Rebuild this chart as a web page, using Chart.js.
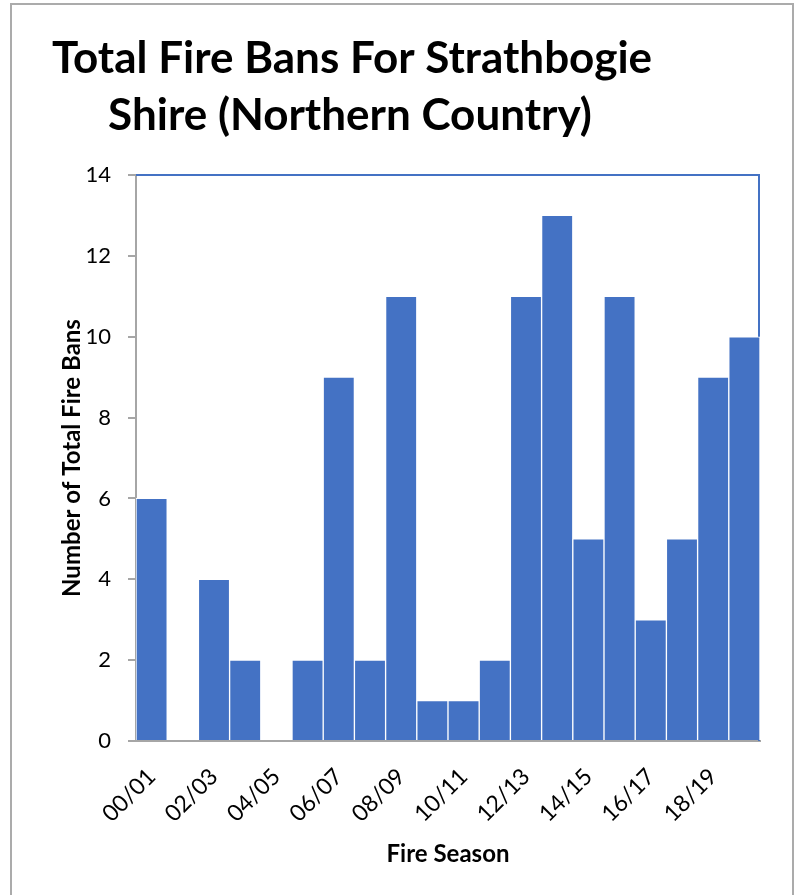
<!DOCTYPE html>
<html>
<head>
<meta charset="utf-8">
<script src="https://cdn.jsdelivr.net/npm/chart.js@4"></script>
<style>
  html, body { margin: 0; padding: 0; background: #fff; }
  #wrap { position: relative; width: 795px; height: 895px; overflow: hidden; }
  #c { position: absolute; left: 0; top: 0; }
  #frame { position: absolute; left: 10px; top: 3px; width: 780px; height: 910px;
           border: 2px solid #ababab; pointer-events: none; }
</style>
</head>
<body>
<div id="wrap">
  <canvas id="c" width="795" height="895"></canvas>
  <div id="frame"></div>
</div>
<script>
const titleLines = ["Total Fire Bans For Strathbogie", "Shire (Northern Country)"];
const seasons = ["00/01","01/02","02/03","03/04","04/05","05/06","06/07","07/08","08/09","09/10",
                 "10/11","11/12","12/13","13/14","14/15","15/16","16/17","17/18","18/19","19/20"];
const fireBans = [6,0,4,2,0,2,9,2,11,1,1,2,11,13,5,11,3,5,9,10];
const yTicks = [0,2,4,6,8,10,12,14];

const titlePlugin = {
  id: 'titlePlugin',
  afterDraw(chart) {
    const ctx = chart.ctx;
    ctx.save();
    ctx.fillStyle = '#000';
    ctx.font = 'bold 44px Lato';
    ctx.textAlign = 'center';
    ctx.textBaseline = 'alphabetic';
    ctx.fillText(titleLines[0], 352, 73);
    ctx.fillText(titleLines[1], 350, 130);
    ctx.restore();
  }
};

const framePlugin = {
  id: 'framePlugin',
  beforeDatasetsDraw(chart) {
    const a = chart.chartArea;
    const ctx = chart.ctx;
    ctx.save();
    ctx.strokeStyle = '#4472c4';
    ctx.lineWidth = 2;
    ctx.beginPath();
    ctx.moveTo(a.left, a.top);
    ctx.lineTo(a.right - 1, a.top);
    ctx.lineTo(a.right - 1, a.bottom);
    ctx.stroke();
    ctx.restore();
  }
};

new Chart(document.getElementById('c'), {
  type: 'bar',
  data: {
    labels: seasons,
    datasets: [{
      data: fireBans,
      backgroundColor: '#4472c4',
      borderColor: '#ffffff',
      borderWidth: 1,
      borderSkipped: 'bottom',
      barPercentage: 1,
      categoryPercentage: 1
    }]
  },
  options: {
    responsive: false,
    animation: false,
    devicePixelRatio: 1,
    layout: { padding: { left: 0, right: 35, top: 175, bottom: 0 } },
    plugins: {
      legend: { display: false },
      title: { display: false },
      tooltip: { enabled: false }
    },
    scales: {
      x: {
        afterFit(s) { s.height = 154; },
        grid: { display: false, drawTicks: false },
        border: { display: true, color: '#a6a6a6', width: 2 },
        ticks: {
          autoSkip: false,
          maxRotation: 45,
          minRotation: 45,
          padding: 22,
          color: '#000',
          font: { family: 'Lato', size: 23 },
          callback(v, i) { return i % 2 === 0 ? seasons[i] : ''; }
        },
        title: {
          display: true,
          text: 'Fire Season',
          color: '#000',
          font: { family: 'Lato', size: 24, weight: 'bold' },
          padding: { top: 0, bottom: 26 }
        }
      },
      y: {
        min: 0,
        max: 14,
        afterFit(s) { s.width = 136; },
        afterBuildTicks(s) { s.ticks = yTicks.map(v => ({ value: v })); },
        grid: { display: true, drawOnChartArea: false, drawTicks: true, tickLength: 8, color: '#a6a6a6', lineWidth: 2 },
        border: { display: true, color: '#a6a6a6', width: 2 },
        ticks: {
          padding: 17,
          color: '#000',
          font: { family: 'Lato', size: 22 }
        },
        title: {
          display: true,
          text: 'Number of Total Fire Bans',
          color: '#000',
          font: { family: 'Lato', size: 24, weight: 'bold' },
          padding: { top: 58, bottom: 0 }
        }
      }
    }
  },
  plugins: [titlePlugin, framePlugin]
});
</script>
</body>
</html>
